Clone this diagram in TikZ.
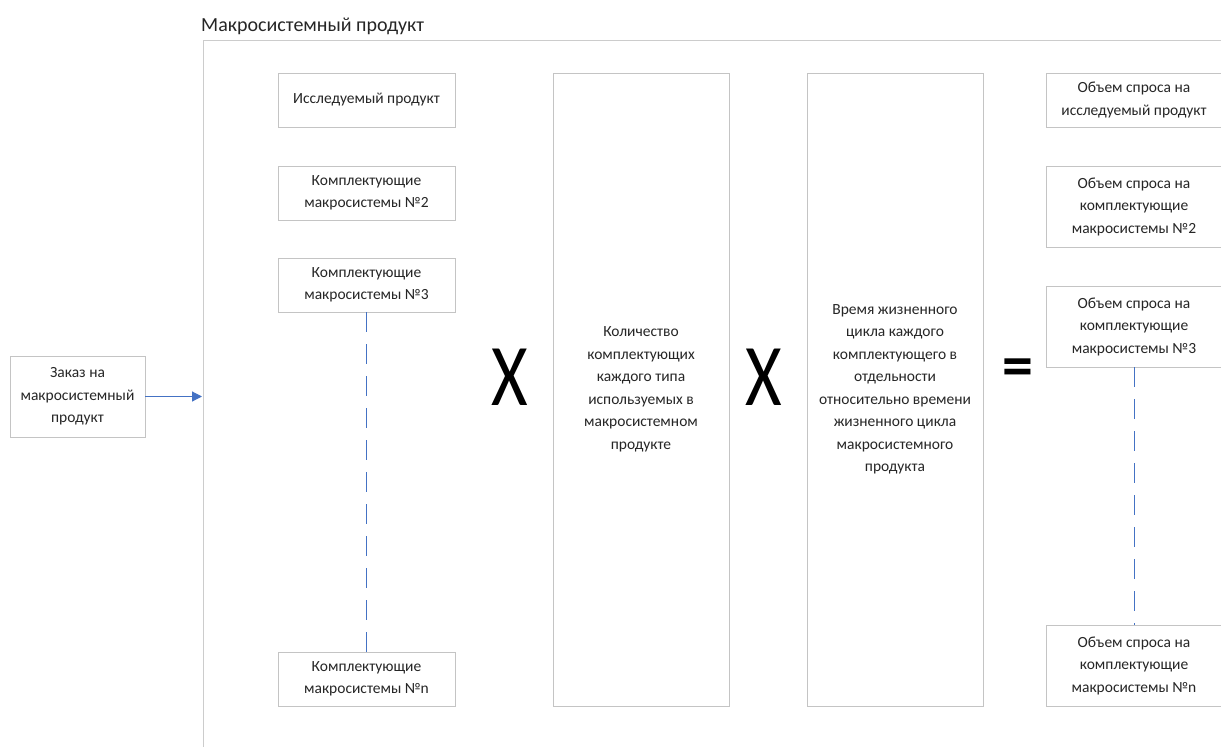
\documentclass[tikz,border=0pt]{standalone}
\usepackage{fontspec}
\setmainfont{Carlito}
\usetikzlibrary{arrows.meta}
\definecolor{boxgray}{HTML}{C4C4C4}
\definecolor{framegray}{HTML}{CCCCCC}
\definecolor{linkblue}{HTML}{4472C4}
\definecolor{txt}{HTML}{262626}
\begin{document}
\begin{tikzpicture}[x=1pt,y=-1pt,
  box/.style={draw=boxgray,line width=0.9pt,fill=white,align=center,inner sep=0pt,
    font=\fontsize{15.5}{22.5}\selectfont,text=txt},
  colbox/.style={box,minimum width=177pt,minimum height=54pt},
  tallbox/.style={box,minimum width=176pt,minimum height=633pt},
  rbox/.style={box,minimum width=176pt,minimum height=81pt},
  dashlink/.style={draw=linkblue,line width=1pt,dash pattern=on 20pt off 12pt},
  bigsym/.style={inner sep=0pt,text=black}]
\useasboundingbox (0,0) rectangle (1221,747);
% frame
\coordinate (fl) at (203,40);
\coordinate (fb) at (203,747);
\coordinate (fr) at (1221,40);
\draw[framegray,line width=1pt] (fb) -- (fl) -- (fr);
\node[anchor=base west,inner sep=0pt,text=txt,font=\fontsize{20}{24}\selectfont] (title) at (201,31) {Макросистемный продукт};
% order box
\node[box,minimum width=135pt,minimum height=81pt] (order) at (77.5,396.5) {Заказ на\\макросистемный\\продукт};
\coordinate (entry) at (202,396.5);
\draw[linkblue,line width=1.2pt,-{Triangle[length=10pt,width=10pt]}] (order.east) -- (entry);
% left column
\node[colbox] (p1) at (366.5,100) {Исследуемый продукт};
\node[colbox] (p2) at (366.5,193) {Комплектующие\\макросистемы №2};
\node[colbox] (p3) at (366.5,285) {Комплектующие\\макросистемы №3};
\node[colbox] (pn) at (366.5,679) {Комплектующие\\макросистемы №n};
\draw[dashlink] (p3.south) -- (pn.north);
% middle
\node[tallbox] (qty) at (641,389.5) {Количество\\комплектующих\\каждого типа\\используемых в\\макросистемном\\продукте};
\node[tallbox] (life) at (895,389.5) {Время жизненного\\цикла каждого\\комплектующего в\\отдельности\\относительно времени\\жизненного цикла\\макросистемного\\продукта};
% symbols
\node[bigsym,font=\fontsize{88}{88}\selectfont] (x1) at (510,377) {\scalebox{0.8}[1]{X}};
\node[bigsym,font=\fontsize{88}{88}\selectfont] (x2) at (764,377) {\scalebox{0.8}[1]{X}};
\node[bigsym,font=\bfseries\fontsize{62}{62}\selectfont] (eq) at (1018,373) {=};
% right column
\node[colbox,minimum width=176pt] (r1) at (1134,100) {Объем спроса на\\исследуемый продукт};
\node[rbox] (r2) at (1134,206.5) {Объем спроса на\\комплектующие\\макросистемы №2};
\node[rbox] (r3) at (1134,326.5) {Объем спроса на\\комплектующие\\макросистемы №3};
\node[rbox] (rn) at (1134,665.5) {Объем спроса на\\комплектующие\\макросистемы №n};
\draw[dashlink] (r3.south) -- (rn.north);
\end{tikzpicture}
\end{document}
